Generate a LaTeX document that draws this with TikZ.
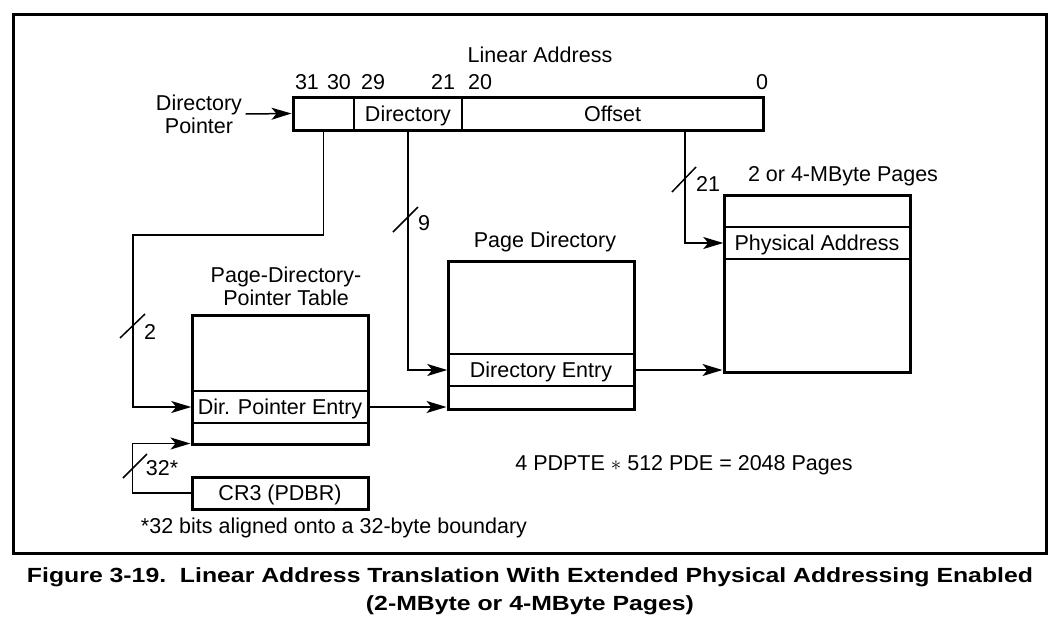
\documentclass[tikz,border=0pt]{standalone}
\usepackage{fontspec}
\setmainfont{Liberation Sans}
\usetikzlibrary{positioning,arrows.meta}

\begin{document}
\begin{tikzpicture}[
    x=1pt, y=-1pt,
    font=\fontsize{21.5}{23}\selectfont,
    field/.style={draw, line width=1.5pt, rectangle, minimum height=33pt, inner sep=0pt, text height=15.5pt, text depth=0pt},
    table/.style={draw, line width=3pt, rectangle, inner sep=0pt, text height=15.5pt, text depth=0pt},
    entry/.style={draw, line width=1.5pt, rectangle, minimum height=32pt, inner sep=0pt, text height=15.5pt, text depth=0pt},
    label/.style={inner sep=1pt},
    line/.style={line width=1.5pt},
    arrow/.style={line width=1.5pt, -{Stealth[length=20pt,width=12pt,inset=5pt]}}
]
\useasboundingbox (0,0) rectangle (1061,627);

% Frame
\draw[line width=3pt] (13,14) rectangle (1046,553);

% Linear address
\node (title_linear) at (540,55) {Linear Address};
\node[field, minimum width=61pt] (dptr_field) at (323.5,113.5) {};
\node[field, minimum width=108pt] (dir_field) at (408,113.5) {Directory};
\node[field, minimum width=301pt] (offset_field) at (612.5,113.5) {Offset};
\node[table, minimum width=470pt, minimum height=33pt] (linear) at (528,113.5) {};
\coordinate (offset_tap) at (685,130);

% Bit numbers
\node (bit31) at (307,82) {31};
\node (bit30) at (339,82) {30};
\node (bit29) at (373,82) {29};
\node (bit21) at (443,82) {21};
\node (bit20) at (480,82) {20};
\node (bit0) at (762,82) {0};

\node[align=center] (dptr_label) at (199,114) {Directory\\Pointer};

% Page-directory-pointer table
\node[align=center] (title_pdpt) at (286,286.5) {Page-Directory-\\Pointer Table};
\node[entry, minimum width=176pt] (dp_entry) at (280,407) {Dir. Pointer Entry};
\node[table, minimum width=176pt, minimum height=129pt] (pdpt) at (280,379.5) {};
\node[table, minimum width=176pt, minimum height=32pt] (cr3) at (280,493) {CR3 (PDBR)};

% Page directory
\node (title_pd) at (545,242) {Page Directory};
\node[entry, minimum width=186pt] (dir_entry) at (541,370) {Directory Entry};
\node[table, minimum width=186pt, minimum height=148pt] (pd) at (541,335) {};

% Pages
\node (title_pages) at (843,176) {2 or 4-MByte Pages};
\node[entry, minimum width=186pt] (phys_addr) at (817,243) {Physical Address};
\node[table, minimum width=186pt, minimum height=177pt] (pages) at (817,283.5) {};

% Connections
\draw[arrow] (dptr_label.east) -- (linear.west);
\draw[arrow] (dptr_field.south) |- (133,235) |- (dp_entry.west);
\draw[arrow] (dir_field.south) |- (dir_entry.west);
\draw[arrow] (offset_tap) |- (phys_addr.west);
\draw[arrow] (dp_entry.east) -- (dp_entry.east -| pd.west);
\draw[arrow] (dir_entry.east) -- (dir_entry.east -| pages.west);
\draw[arrow] (cr3.west) -- ++(-58,0) |- ([yshift=2pt]pdpt.south west);

% Bus widths
\draw[line] (120,338) -- (145,314);
\node[label] (width2) at (150,332) {2};
\draw[line] (393,232) -- (418,207);
\node[label] (width9) at (424,223) {9};
\draw[line] (672,192) -- (696,167);
\node[label] (width21) at (708,184) {21};
\draw[line] (123,478) -- (147,454);
\node[label] (width32) at (162,468) {32*};

% Notes
\node (pages_count) at (684,465) {4 PDPTE $\ast$ 512 PDE = 2048 Pages};
\node (footnote) at (334,528) {*32 bits aligned onto a 32-byte boundary};

% Caption
\node[font=\bfseries\fontsize{20.5}{28}\selectfont] (caption1) at (530,577)
    {\scalebox{1.21}[1]{Figure 3-19.\ \ Linear Address Translation With Extended Physical Addressing Enabled}};
\node[font=\bfseries\fontsize{20.5}{28}\selectfont] (caption2) at (530,605)
    {\scalebox{1.21}[1]{(2-MByte or 4-MByte Pages)}};

\end{tikzpicture}
\end{document}
